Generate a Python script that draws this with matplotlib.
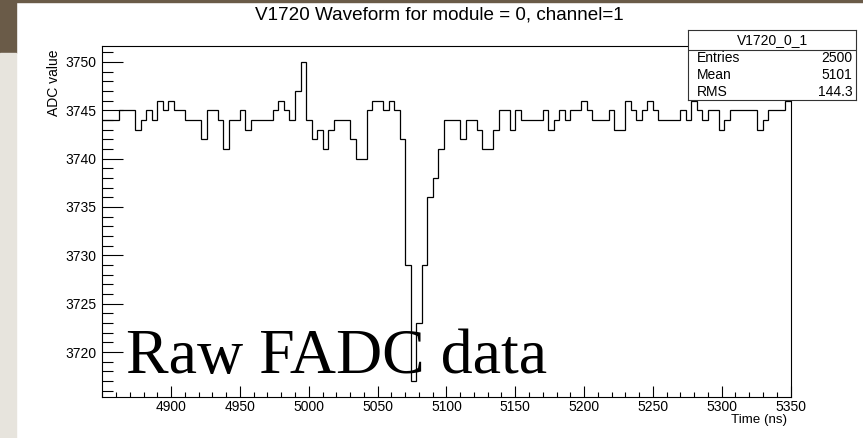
"""Plot one digitised V1720 waveform (module 0, channel 1) as a ROOT-style
step histogram with its stats box."""

import numpy as np
import matplotlib

matplotlib.use("Agg")
import matplotlib.pyplot as plt
from matplotlib.patches import Rectangle
from matplotlib.ticker import MultipleLocator


# 4 ns sampling, window 4850-5350 ns
T_START_NS = 4850
BIN_NS = 4
ADC = [
    3744, 3744, 3744, 3745, 3745, 3745, 3743, 3744, 3745, 3744,
    3746, 3745, 3746, 3745, 3745, 3744, 3744, 3744, 3742, 3745,
    3745, 3744, 3741, 3744, 3744, 3745, 3743, 3744, 3744, 3744,
    3744, 3745, 3746, 3745, 3744, 3747, 3750, 3744, 3742, 3743,
    3741, 3743, 3744, 3744, 3744, 3742, 3740, 3740, 3745, 3746,
    3746, 3745, 3746, 3745, 3742, 3729, 3717, 3723, 3729, 3736,
    3738, 3741, 3744, 3744, 3744, 3742, 3744, 3744, 3743, 3741,
    3741, 3743, 3745, 3745, 3743, 3745, 3744, 3744, 3744, 3744,
    3745, 3743, 3744, 3745, 3744, 3745, 3745, 3746, 3745, 3744,
    3744, 3744, 3745, 3743, 3743, 3746, 3745, 3744, 3745, 3746,
    3745, 3744, 3744, 3744, 3744, 3745, 3744, 3746, 3745, 3744,
    3745, 3745, 3743, 3744, 3745, 3745, 3745, 3745, 3745, 3743,
    3744, 3745, 3745, 3745, 3746,
]

HIST_NAME = "V1720_0_1"
STAT_NAMES = ["Entries", "Mean", "RMS"]
STAT_VALUES = ["2500", "5101", "144.3"]

plt.rcParams["font.family"] = ["Liberation Sans", "DejaVu Sans"]

W, H = 863, 438
fig = plt.figure(figsize=(W / 100, H / 100), dpi=100)


def fx(px):
    return px / W


def fy(py):
    return 1 - py / H


# slide decoration: brown top rule, brown/beige side strip
fig.patches.append(Rectangle((0, fy(2)), 1, fy(0) - fy(2), transform=fig.transFigure,
                             color="#6a5b48", zorder=0))
fig.patches.append(Rectangle((0, fy(53)), fx(16), fy(0) - fy(53), transform=fig.transFigure,
                             color="#6a5b48", zorder=0))
fig.patches.append(Rectangle((0, 0), fx(16), fy(53), transform=fig.transFigure,
                             color="#e7e4dd", zorder=0))

ax = fig.add_axes([fx(102.3), fy(397), fx(790.5) - fx(102.3), fy(46) - fy(397)])

adc = np.array(ADC, dtype=float)
edges = T_START_NS + BIN_NS * np.arange(len(adc) + 1)
ax.stairs(adc, edges, baseline=None, color="black", linewidth=0.9)

# ROOT-like auto range: 5% margin around min/max
lo, hi = adc.min(), adc.max()
pad = 0.05 * (hi - lo)
ax.set_ylim(lo - pad, hi + pad)
ax.set_xlim(edges[0], edges[-1])

ax.set_xticks(np.arange(4900, 5351, 50))
ax.xaxis.set_minor_locator(MultipleLocator(10))
ax.set_yticks(np.arange(3720, 3751, 5))
ax.yaxis.set_minor_locator(MultipleLocator(1))

ax.tick_params(which="both", direction="in", color="black", width=0.8, labelsize=10)
ax.tick_params(axis="x", which="major", length=7.7, pad=2)
ax.tick_params(axis="x", which="minor", length=3.6)
ax.tick_params(axis="y", which="major", length=15, pad=4)
ax.tick_params(axis="y", which="minor", length=8)
for s in ax.spines.values():
    s.set_linewidth(0.8)

fig.text(fx(439), fy(15), "V1720 Waveform for module = 0, channel=1",
         ha="center", va="center", fontsize=13.6)
fig.text(fx(54), fy(49), "ADC value", rotation=90, ha="center", va="top", fontsize=10)
fig.text(fx(787), fy(423), "Time (ns)", ha="right", va="baseline", fontsize=9.6)

# stats box
bx = fig.add_axes([fx(688), fy(100), fx(856) - fx(688), fy(30) - fy(100)], zorder=5)
bx.set_xlim(688, 856)
bx.set_ylim(100, 30)
bx.set_xticks([])
bx.set_yticks([])
for s in bx.spines.values():
    s.set_linewidth(0.8)
    s.set_color("#333333")
bx.axhline(50, color="#333333", linewidth=0.8)
bx.text(772, 40.5, HIST_NAME, ha="center", va="center", fontsize=10)
for row, (name, val) in enumerate(zip(STAT_NAMES, STAT_VALUES)):
    y = 58.5 + 16.8 * row
    bx.text(696.5, y, name, ha="left", va="center", fontsize=10)
    bx.text(852.5, y, val, ha="right", va="center", fontsize=10)

fig.text(fx(126), fy(373.3), "Raw FADC data", family=["Liberation Serif", "DejaVu Serif"],
         fontsize=46, ha="left", va="baseline")

fig.savefig("out.png", dpi=100)
